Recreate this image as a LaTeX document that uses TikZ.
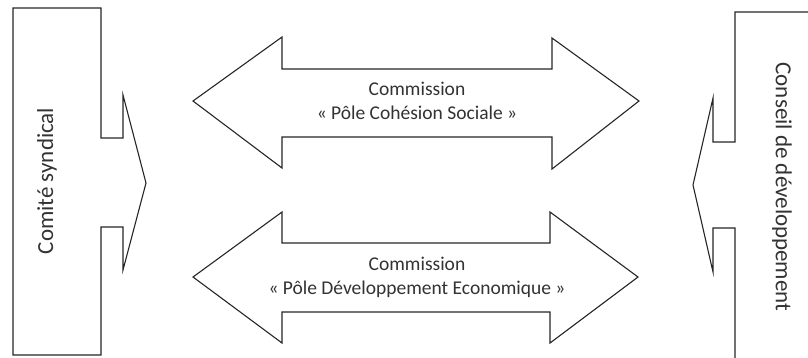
\documentclass[tikz,border=0pt]{standalone}
\usepackage{fontspec}
\setmainfont{Carlito}
\begin{document}
\begin{tikzpicture}[x=1pt,y=-1pt,
  shapeline/.style={draw=black!85,line width=1.1pt,line join=miter,fill=white},
  midtext/.style={align=center,font=\fontsize{19.5}{24}\selectfont,text=black!80,inner sep=0pt},
  sidetext/.style={font=\fontsize{23}{27}\selectfont,text=black!80,inner sep=0pt}]
\useasboundingbox (0,0) rectangle (808,357);
\clip (0,0) rectangle (808,357);
% left block
\draw[shapeline] (13,8) -- (101,8) -- (101,138) -- (123,138) -- (123,95) -- (146,183)
  -- (123,270) -- (123,227) -- (101,227) -- (101,355) -- (13,355) -- cycle;
% right block
\draw[shapeline] (830,12) -- (735,12) -- (735,142) -- (713,142) -- (713,98) -- (693,185)
  -- (713,272) -- (713,228) -- (735,228) -- (735,380) -- (830,380) -- cycle;
% upper double arrow
\draw[shapeline] (193,101) -- (282,37) -- (282,69) -- (552,69) -- (552,38) -- (639,101)
  -- (552,169) -- (552,137) -- (282,137) -- (282,168) -- cycle;
% lower double arrow
\draw[shapeline] (193,277) -- (282,212) -- (282,243) -- (550,243) -- (550,212) -- (638,277)
  -- (550,343) -- (550,312) -- (282,312) -- (282,343) -- cycle;
% texts
\node[sidetext,rotate=90] (cs) at (47,181) {Comité syndical};
\node[sidetext,rotate=-90] (cd) at (782,187) {Conseil de développement};
\node[midtext] (pcs) at (417,101) {Commission\\« Pôle Cohésion Sociale »};
\node[midtext] (pde) at (417,277) {Commission\\« Pôle Développement Economique »};
\end{tikzpicture}
\end{document}
